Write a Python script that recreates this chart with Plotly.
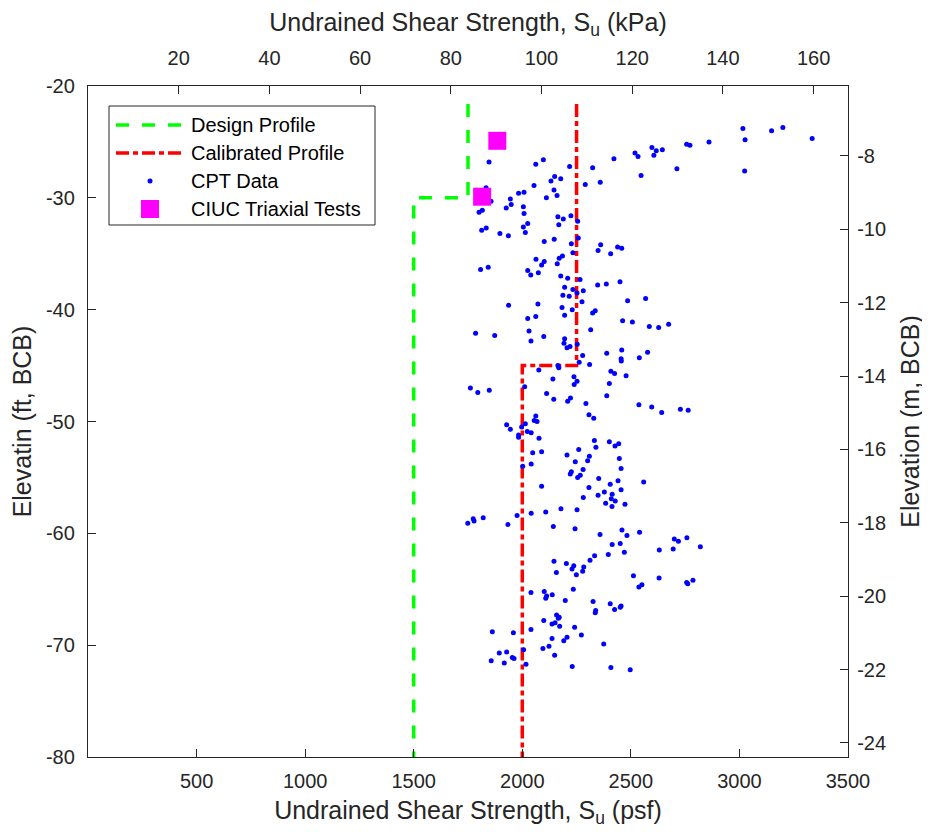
import plotly.graph_objects as go

# ---- data ----
cpt_su_psf = [
    1847, 2062, 2097, 2218, 2324, 2422, 2519, 2533, 2547, 2597, 2606, 2617, 2645, 2712, 2757, 2772, 2860, 3016, 3026, 3024,
    3148, 3200, 3335, 2458, 2132, 2149, 2177, 2290, 2359, 1833, 1983, 2008, 2054, 2146, 2160, 2111, 1856, 1945, 1949, 1926,
    1816, 1801, 2005, 2008, 2164, 2189, 2224, 2255, 2168, 2025, 2005, 2014, 1834, 1813, 1897, 1936, 2101, 2147, 2226, 2258,
    2233, 2361, 2349, 2407, 2439, 2063, 2170, 2185, 2101, 2089, 2161, 1808, 1843, 2025, 2039, 2074, 2177, 2209, 2266, 2195,
    2233, 2252, 2281, 2187, 2216, 2347, 2387, 2450, 1937, 2072, 2275, 2183, 2230, 2195, 2485, 2324, 2336, 2025, 2062, 2462,
    2507, 1785, 1873, 2031, 2040, 2099, 2315, 2195, 2192, 2220, 2206, 2253, 2389, 2458, 2278, 2455, 2456, 2539, 2310, 2262,
    2164, 2168, 2076, 2141, 2238, 2252, 2239, 2408, 2425, 2478, 2401, 2011, 1761, 1795, 1848, 2112, 2145, 2222, 2389, 2568,
    2585, 2628, 2674, 2577, 2209, 2293, 2537, 2307, 2329, 2062, 2055, 2068, 1928, 1945, 1997, 2014, 2023, 2041, 1983, 1983,
    2077, 2332, 2401, 2339, 2427, 2444, 2048, 2089, 2206, 2260, 2447, 2244, 2301, 2309, 2002, 2041, 2280, 2455, 2226, 2221,
    2267, 2255, 2352, 2441, 2089, 2307, 2405, 2455, 2378, 2414, 2349, 2281, 2410, 2428, 2384, 2413, 2473, 2178, 2252, 2108,
    2041, 1976, 1820, 1774, 1778, 1749, 1934, 2143, 2243, 2459, 2358, 2482, 2540, 2596, 2642, 2728, 2764, 2559, 2700, 2719,
    2758, 2414, 2451, 2470, 2396, 2333, 2312, 2146, 2203, 2237, 2229, 2283, 2278, 2157, 2249, 2512, 2537, 2551, 2040, 2101,
    2138, 2112, 2108, 2235, 2198, 2326, 2405, 2455, 2451, 2425, 2338, 2336, 2158, 2170, 2166, 2099, 2151, 2137, 2172, 2241,
    2040, 1862, 1959, 2272, 2206, 2137, 2191, 2375, 2123, 2095, 2006, 1928, 1894, 2149, 1954, 1962, 1857, 1917, 2017, 2230,
    2408, 2497, 2631, 2695, 2820, 2630, 2757, 2762, 2786,
]
cpt_elev_ft = [
    -26.8, -27.0, -26.6, -27.2, -27.3, -26.5, -26.0, -26.3, -28.0, -25.5, -26.2, -25.8, -25.7, -27.4, -25.2, -25.3, -25.0, -23.8, -24.8, -27.6,
    -24.0, -23.7, -24.7, -34.5, -28.5, -28.1, -28.3, -28.8, -28.6, -29.1, -29.6, -29.5, -28.9, -29.3, -29.8, -30.0, -30.3, -30.1, -30.6, -30.9,
    -31.1, -31.3, -30.8, -31.4, -31.7, -31.9, -31.6, -32.1, -32.4, -32.3, -32.6, -33.1, -32.7, -32.9, -33.2, -33.4, -33.9, -33.7, -34.1, -33.6,
    -34.9, -34.2, -34.7, -35.0, -34.4, -35.5, -35.4, -35.2, -35.7, -36.0, -35.9, -36.4, -36.2, -36.5, -36.9, -36.7, -37.0, -37.2, -37.3, -38.0,
    -38.2, -38.5, -38.3, -38.7, -38.8, -37.8, -37.7, -37.5, -39.6, -39.5, -39.3, -39.8, -40.0, -40.5, -39.2, -40.3, -40.1, -40.8, -40.6, -41.0,
    -41.1, -42.1, -42.3, -41.9, -42.8, -42.4, -41.8, -42.6, -43.0, -43.3, -43.4, -43.1, -43.9, -43.6, -44.1, -44.4, -44.6, -44.3, -44.9, -44.7,
    -45.0, -45.2, -45.4, -46.2, -46.0, -46.4, -46.7, -45.5, -45.7, -45.9, -46.6, -46.9, -47.0, -47.4, -47.2, -47.5, -48.0, -47.9, -47.7, -39.0,
    -41.5, -41.6, -41.3, -43.8, -48.2, -48.4, -48.5, -49.4, -49.7, -49.5, -49.9, -50.0, -50.3, -50.7, -50.5, -50.2, -50.9, -51.0, -51.2, -51.4,
    -51.5, -51.7, -51.8, -52.3, -52.2, -52.0, -52.8, -52.7, -53.0, -52.5, -53.3, -53.6, -53.5, -53.1, -54.0, -53.8, -54.3, -54.2, -54.5, -54.7,
    -54.8, -55.0, -55.1, -55.3, -55.8, -55.9, -55.6, -56.1, -56.3, -56.5, -56.6, -56.8, -56.9, -57.1, -57.3, -57.6, -57.4, -57.8, -57.9, -58.1,
    -58.2, -58.4, -58.6, -58.7, -58.9, -59.1, -59.2, -59.4, -59.6, -59.7, -60.1, -60.2, -59.9, -48.7, -49.2, -48.9, -49.0, -55.4, -60.5, -60.7,
    -60.4, -61.0, -60.9, -61.7, -61.9, -62.0, -62.4, -62.5, -62.7, -62.9, -63.2, -63.0, -63.4, -63.5, -63.7, -63.8, -64.8, -64.6, -65.3, -65.2,
    -65.5, -65.6, -65.8, -65.0, -66.0, -66.1, -66.3, -66.5, -66.6, -66.8, -66.9, -67.1, -67.3, -67.5, -67.6, -67.8, -68.0, -68.1, -68.3, -68.4,
    -68.6, -68.8, -68.9, -69.1, -69.3, -69.4, -69.6, -69.9, -70.1, -70.3, -70.4, -70.6, -70.7, -70.9, -71.1, -71.2, -71.4, -71.6, -71.7, -71.9,
    -72.0, -72.2, -61.5, -61.4, -61.2, -64.0, -64.4, -64.5, -64.2,
]

design_su_psf = [1750, 1750, 1500, 1500]
design_elev_ft = [-21.6, -30.0, -30.0, -80.0]

calib_su_psf = [2250, 2250, 2000, 2000]
calib_elev_ft = [-21.6, -45.0, -45.0, -80.0]

triax_su_psf = [1885, 1815]
triax_elev_ft = [-24.9, -29.9]

# axis definitions
x_range_psf = [0, 3500]
x_ticks_psf = [500, 1000, 1500, 2000, 2500, 3000, 3500]
x_ticks_kpa = [20, 40, 60, 80, 100, 120, 140, 160]
y_range_ft = [-80, -20]
y_ticks_ft = [-80, -70, -60, -50, -40, -30, -20]
y_ticks_m = [-24, -22, -20, -18, -16, -14, -12, -10, -8]

legend_names = ["Design Profile", "Calibrated Profile", "CPT Data", "CIUC Triaxial Tests"]

PSF_TO_KPA = 0.0478803
FT_TO_M = 0.3048

FONT = "Liberation Sans, Arial, Helvetica, sans-serif"
INK = "#262626"
GREEN = "#00FF00"
RED = "#FF0000"
BLUE = "#0000FF"
MAGENTA = "#FF00FF"
GREEN_DASH = "13px,13px"
RED_DASH = "13px,4px,5px,4px"

# the page body adds an 8px offset, so the figure is 8px smaller on each axis
OFF = 8
W, H = 930 - OFF, 832 - OFF
ML, MR, MT, MB = 88 - OFF, 82, 86 - OFF, 75

fig = go.Figure()
fig.add_trace(go.Scatter(
    x=design_su_psf, y=design_elev_ft, mode="lines", name=legend_names[0],
    line=dict(color=GREEN, width=3.5, dash=GREEN_DASH)))
fig.add_trace(go.Scatter(
    x=calib_su_psf, y=calib_elev_ft, mode="lines", name=legend_names[1],
    line=dict(color=RED, width=3.5, dash=RED_DASH)))
fig.add_trace(go.Scatter(
    x=cpt_su_psf, y=cpt_elev_ft, mode="markers", name=legend_names[2],
    marker=dict(color=BLUE, size=5, line=dict(width=0))))
fig.add_trace(go.Scatter(
    x=triax_su_psf, y=triax_elev_ft, mode="markers", name=legend_names[3],
    marker=dict(color=MAGENTA, size=18, symbol="square", line=dict(width=0))))
# invisible anchor so the secondary axes are rendered
fig.add_trace(go.Scatter(x=[None], y=[None], xaxis="x2", yaxis="y2",
                         showlegend=False, hoverinfo="skip"))


def fmt(v):
    return ("-" if v < 0 else "") + str(abs(v))


axis_common = dict(
    showline=True, linecolor=INK, linewidth=1.3, ticks="inside", ticklen=8,
    tickcolor=INK, tickwidth=1.3, showgrid=False, zeroline=False,
    tickfont=dict(family=FONT, size=20, color=INK), automargin=False,
)
TITLE_FONT = dict(family=FONT, size=25, color=INK)

fig.update_layout(
    width=W, height=H,
    margin=dict(l=ML, r=MR, t=MT, b=MB, autoexpand=False),
    plot_bgcolor="white", paper_bgcolor="white",
    font=dict(family=FONT, size=20, color=INK),
    showlegend=False,
    xaxis=dict(range=x_range_psf, tickvals=x_ticks_psf, ticktext=[fmt(v) for v in x_ticks_psf],
               side="bottom", anchor="y", ticklabelstandoff=6,
               title=dict(text="Undrained Shear Strength, S<sub>u</sub> (psf)", font=TITLE_FONT, standoff=10),
               **axis_common),
    xaxis2=dict(range=[v * PSF_TO_KPA for v in x_range_psf], tickvals=x_ticks_kpa,
                ticktext=[fmt(v) for v in x_ticks_kpa],
                overlaying="x", side="top", anchor="y", ticklabelstandoff=12,
                title=dict(text="Undrained Shear Strength, S<sub>u</sub> (kPa)", font=TITLE_FONT, standoff=14),
                **axis_common),
    yaxis=dict(range=y_range_ft, tickvals=y_ticks_ft, ticktext=[fmt(v) for v in y_ticks_ft],
               side="left", anchor="x", ticklabelstandoff=8,
               title=dict(text="Elevatin (ft, BCB)", font=TITLE_FONT, standoff=8),
               **axis_common),
    yaxis2=dict(range=[v * FT_TO_M for v in y_range_ft], tickvals=y_ticks_m,
                ticktext=[fmt(v) for v in y_ticks_m],
                overlaying="y", side="right", anchor="x", ticklabelstandoff=4,
                title=dict(text="Elevation (m, BCB)", font=TITLE_FONT, standoff=16),
                **axis_common),
)

# ---- legend box drawn in paper coordinates (pixel layout of the reference) ----
PW, PH = W - ML - MR, H - MT - MB


def px(X):
    return (X - OFF - ML) / PW


def py(Y):
    return (H - MB - (Y - OFF)) / PH


LB_X0, LB_X1, LB_Y0, LB_Y1 = 109, 375, 106, 225
ROWS = [125, 153, 181, 209]
SAMPLE_X0, SAMPLE_X1, SAMPLE_XC = 116, 183, 150
TEXT_X = 189

shapes = [dict(type="rect", xref="paper", yref="paper",
               x0=px(LB_X0), x1=px(LB_X1), y0=py(LB_Y1), y1=py(LB_Y0),
               line=dict(color=INK, width=1), fillcolor="white", layer="above")]
shapes.append(dict(type="line", xref="paper", yref="paper",
                   x0=px(SAMPLE_X0), x1=px(SAMPLE_X1), y0=py(ROWS[0]), y1=py(ROWS[0]),
                   line=dict(color=GREEN, width=3.5, dash=GREEN_DASH), layer="above"))
shapes.append(dict(type="line", xref="paper", yref="paper",
                   x0=px(SAMPLE_X0), x1=px(SAMPLE_X1), y0=py(ROWS[1]), y1=py(ROWS[1]),
                   line=dict(color=RED, width=3.5, dash=RED_DASH), layer="above"))
shapes.append(dict(type="circle", xref="paper", yref="paper",
                   x0=px(SAMPLE_XC - 2.5), x1=px(SAMPLE_XC + 2.5),
                   y0=py(ROWS[2] + 2.5), y1=py(ROWS[2] - 2.5),
                   line=dict(width=0), fillcolor=BLUE, layer="above"))
shapes.append(dict(type="rect", xref="paper", yref="paper",
                   x0=px(SAMPLE_XC - 9), x1=px(SAMPLE_XC + 9),
                   y0=py(ROWS[3] + 9), y1=py(ROWS[3] - 9),
                   line=dict(width=0), fillcolor=MAGENTA, layer="above"))

annotations = [dict(text=name, xref="paper", yref="paper", x=px(TEXT_X), y=py(row),
                    xanchor="left", yanchor="middle", showarrow=False,
                    font=dict(family=FONT, size=20, color="black"))
               for name, row in zip(legend_names, ROWS)]

fig.update_layout(shapes=shapes, annotations=annotations)

fig.write_html("out.html")
